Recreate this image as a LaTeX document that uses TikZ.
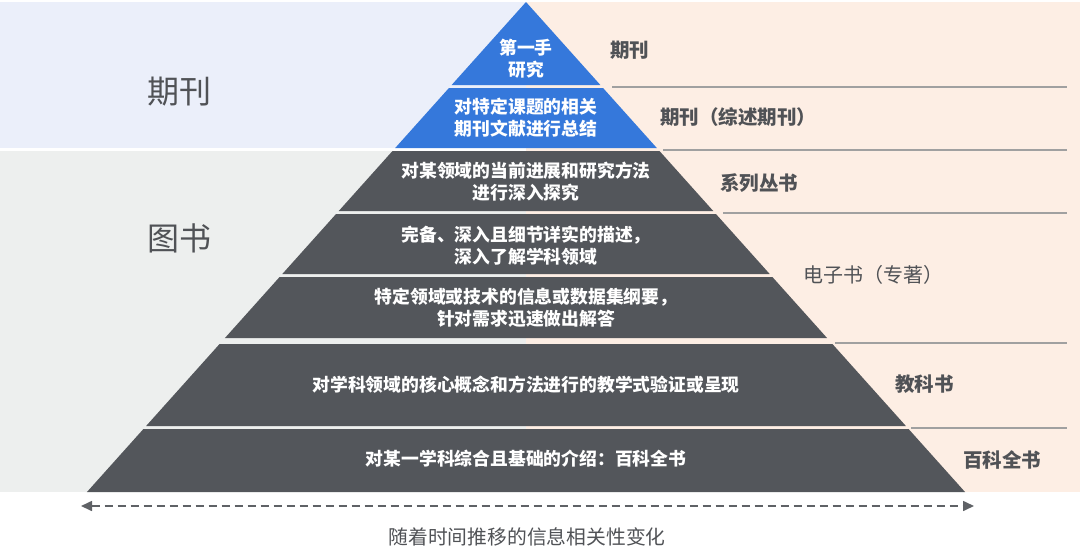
\documentclass[tikz,border=0pt]{standalone}
\usepackage{fontspec}
\setmainfont{Noto Sans CJK SC}
\usepackage{tikz}
\usetikzlibrary{arrows.meta, positioning}

\definecolor{pyblue}{RGB}{53,120,219}
\definecolor{pygray}{RGB}{83,86,91}
\definecolor{bgblue}{RGB}{235,239,250}
\definecolor{bggray}{RGB}{237,239,238}
\definecolor{bgpeach}{RGB}{253,238,228}
\definecolor{labelgray}{RGB}{80,82,86}
\definecolor{linegray}{RGB}{160,160,160}
\definecolor{arrowgray}{RGB}{95,98,102}

\begin{document}
\begin{tikzpicture}[
	x=1pt, y=-1pt,
	layer text/.style={align=center, text=white, inner sep=0pt, font=\bfseries\fontsize{17.8}{22}\selectfont},
	side text/.style={anchor=west, inner sep=0pt, text=labelgray, font=\bfseries\fontsize{19.5}{22}\selectfont},
	group text/.style={text=labelgray, font=\fontsize{32}{36}\selectfont},
	sep line/.style={draw=linegray, line width=1.2pt},
	time arrow/.style={{Triangle[length=11pt,width=10pt]}-{Triangle[length=11pt,width=10pt]}, draw=arrowgray, line width=1.6pt, dash pattern=on 8pt off 5pt}
]
\useasboundingbox (0,0) rectangle (1080,560);

% backgrounds
\fill[bgblue]  (0,2)   rectangle (526,148);
\fill[bggray]  (0,151) rectangle (526,492);
\fill[bgpeach] (526,2) rectangle (1080,492);

% pyramid layers: top/bottom/colour
\foreach \t/\b/\c in {2/85/pyblue, 88/148/pyblue, 151/211/pygray, 214/274/pygray,
	277/338/pygray, 344/426/pygray, 429/492/pygray}
	\fill[\c] ({526-0.896*(\t-2)},\t) -- ({526+0.896*(\t-2)},\t)
		-- ({526+0.896*(\b-2)},\b) -- ({526-0.896*(\b-2)},\b) -- cycle;

\node[layer text] (l1) at (526,59)  {第一手\\研究};
\node[layer text] (l2) at (526,118) {对特定课题的相关\\期刊文献进行总结};
\node[layer text] (l3) at (526,182) {对某领域的当前进展和研究方法\\进行深入探究};
\node[layer text] (l4) at (526,246) {完备、深入且细节详实的描述，\\深入了解学科领域};
\node[layer text] (l5) at (526,308) {特定领域或技术的信息或数据集纲要，\\针对需求迅速做出解答};
\node[layer text] (l6) at (526,385) {对学科领域的核心概念和方法进行的教学式验证或呈现};
\node[layer text] (l7) at (526,459) {对某一学科综合且基础的介绍：百科全书};

% left groups
\node[group text] (g1) at (179,92)  {期刊};
\node[group text] (g2) at (179,238) {图书};

% right side labels
\node[side text] (r1) at (610,50)  {期刊};
\node[side text] (r2) at (660,117) {期刊（综述期刊）};
\node[side text] (r3) at (720,183) {系列丛书};
\node[side text] (r4) [font=\fontsize{20}{22}\selectfont] at (803,275) {电子书（专著）};
\node[side text] (r5) at (895,384) {教科书};
\node[side text] (r6) at (963,460) {百科全书};

\foreach \y/\xs [count=\i] in {87/612, 150/663, 213/723, 343/835, 428/911} {
	\coordinate (sa\i) at (\xs,\y);
	\coordinate (sb\i) at (1067,\y);
	\draw[sep line] (sa\i) -- (sb\i);
}

% time axis
\coordinate (tl) at (81,506);
\coordinate (tr) at (974,506);
\draw[time arrow] (tl) -- (tr);
\node[text=labelgray, font=\fontsize{19.8}{22}\selectfont] (tcap) at (527,537) {随着时间推移的信息相关性变化};
%\node[below=4pt of tcap] {};
\end{tikzpicture}
\end{document}
